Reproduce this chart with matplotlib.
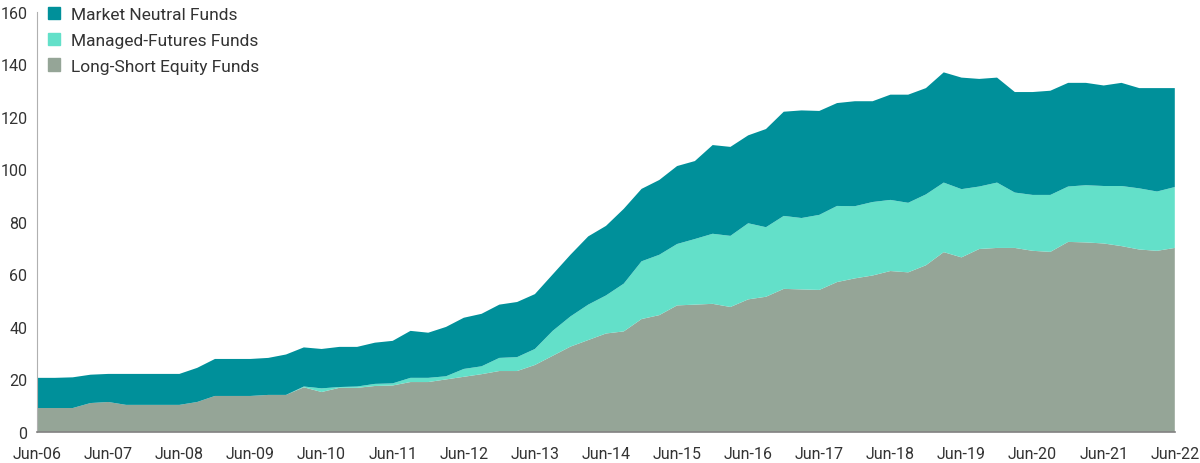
#!/usr/bin/env python3
"""Stacked area: number of liquid alternative funds by category, Jun-06 to Jun-22."""
import matplotlib

matplotlib.use("Agg")
import matplotlib.pyplot as plt
import numpy as np
from matplotlib.patches import Patch

MN_COL, MF_COL, LS_COL, INK = "#00909a", "#63e0c9", "#95a597", "#333333"

# quarterly observations, Jun-06 .. Jun-22
years = list(range(6, 23))
tick_labels = [f"Jun-{y:02d}" for y in years]

long_short = [
    9.1, 9.1, 9.1, 11.0, 11.4, 10.3, 10.3, 10.3, 10.3, 11.4, 13.7, 13.7, 13.7,
    14.1, 14.1, 17.0, 15.2, 16.8, 16.8, 17.5, 17.7, 19.0, 19.0, 20.0, 21.0,
    22.0, 23.2, 23.2, 25.5, 29.0, 32.5, 35.0, 37.5, 38.3, 43.0, 44.5, 48.2,
    48.5, 48.8, 47.6, 50.5, 51.5, 54.5, 54.3, 54.1, 57.1, 58.5, 59.6, 61.3,
    60.8, 63.5, 68.5, 66.5, 69.7, 70.1, 70.1, 69.0, 68.6, 72.4, 72.2, 71.8,
    70.8, 69.5, 69.0, 70.1,
]
managed_futures = [
    0, 0, 0, 0, 0, 0, 0, 0, 0, 0, 0, 0, 0,
    0, 0, 0.3, 1.4, 0.3, 0.5, 0.8, 0.8, 1.6, 1.6, 1.2, 3.0,
    3.0, 5.0, 5.3, 6.1, 9.5, 11.5, 13.5, 14.5, 18.2, 22.0, 23.0, 23.4,
    25.0, 26.7, 27.1, 29.0, 26.5, 27.8, 27.2, 28.6, 29.0, 27.5, 28.0, 27.1,
    26.5, 27.0, 26.5, 26.0, 23.8, 24.9, 21.1, 21.3, 21.7, 21.1, 21.8, 21.9,
    22.9, 23.3, 22.6, 23.2,
]
market_neutral = [
    11.5, 11.5, 11.7, 10.8, 10.7, 11.8, 11.8, 11.8, 11.8, 13.0, 14.1, 14.1, 14.1,
    14.1, 15.4, 14.9, 15.0, 15.3, 15.1, 15.7, 16.2, 17.9, 17.2, 18.8, 19.5,
    20.0, 20.3, 21.0, 20.9, 21.5, 23.5, 26.0, 26.5, 28.5, 27.6, 28.5, 29.7,
    29.7, 33.8, 33.9, 33.5, 37.4, 39.7, 41.0, 39.6, 39.2, 40.0, 38.4, 40.1,
    41.2, 40.5, 42.0, 42.5, 41.0, 40.0, 38.3, 39.2, 39.7, 39.5, 39.0, 38.3,
    39.3, 38.2, 39.4, 37.7,
]

FONT = ["Liberation Sans Narrow", "Roboto", "DejaVu Sans"]
plt.rcParams["font.family"] = FONT


def main():
    x = np.arange(len(long_short))
    fig = plt.figure(figsize=(12, 4.64), dpi=100)
    ax = fig.add_axes([0.031, 0.067, 0.948, 0.905])
    ax.stackplot(x, long_short, managed_futures, market_neutral,
                 colors=[LS_COL, MF_COL, MN_COL], linewidth=0)
    ax.set_xlim(0, len(x) - 1)
    ax.set_ylim(0, 160)
    ax.set_yticks(range(0, 161, 20))
    ax.set_xticks(np.arange(0, len(x), 4), tick_labels)
    ax.tick_params(axis="both", length=0, labelsize=11.5, colors=INK)
    ax.tick_params(axis="x", pad=10)
    ax.tick_params(axis="y", pad=7)
    for s in ("top", "right"):
        ax.spines[s].set_visible(False)
    ax.spines["left"].set_color("#b0b0b0")
    ax.spines["bottom"].set_color("#808080")
    ax.spines["bottom"].set_linewidth(1.2)

    handles = [Patch(color=MN_COL), Patch(color=MF_COL), Patch(color=LS_COL)]
    names = ["Market Neutral Funds", "Managed-Futures Funds", "Long-Short Equity Funds"]
    ax.legend(handles, names, loc="upper left", bbox_to_anchor=(-0.004, 1.05),
              frameon=False, fontsize=12.5, handlelength=0.7, handleheight=0.7,
              handletextpad=0.6, labelspacing=0.62, labelcolor=INK)

    fig.savefig("out.png", dpi=100, facecolor="white")
    plt.close(fig)


if __name__ == "__main__":
    main()
